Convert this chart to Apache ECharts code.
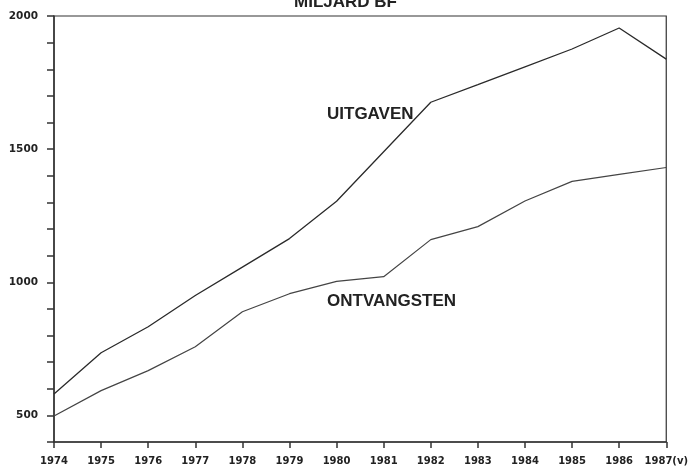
<!DOCTYPE html>
<html>
<head>
    <meta charset="UTF-8">
    <title>Miljard BF</title>
    <script src="https://cdn.jsdelivr.net/npm/echarts@6/dist/echarts.min.js"></script>
    <style>
        body { margin: 0; background: #fff; }
        #main { width: 691px; height: 468px; }
    </style>
</head>
<body>
    <div id="main"></div>
    <script>
        // jaren
        var years = ['1974', '1975', '1976', '1977', '1978', '1979', '1980',
                     '1981', '1982', '1983', '1984', '1985', '1986', '1987(v)'];
        // uitgaven (miljard BF)
        var uitgaven = [580, 735, 833, 950, 1057, 1164, 1304, 1490, 1676, 1742, 1809, 1876, 1955, 1838];
        // ontvangsten (miljard BF)
        var ontvangsten = [498, 593, 668, 758, 889, 957, 1003, 1021, 1160, 1209, 1305, 1379, 1405, 1431];
        // y-as labels
        var yLabels = [500, 1000, 1500, 2000];

        var font = 'Liberation Sans, Arial, sans-serif';
        var tickFont = 'DejaVu Sans, sans-serif';

        var option = {
            backgroundColor: '#ffffff',
            animation: false,
            title: {
                text: 'MILJARD BF',
                left: 'center',
                top: -6,
                padding: 0,
                textStyle: { fontFamily: font, fontSize: 17, fontWeight: 'bold', color: '#222' }
            },
            grid: {
                left: 54, right: 24, top: 16, bottom: 26,
                show: true,
                borderColor: '#333',
                borderWidth: 1.2
            },
            xAxis: {
                type: 'category',
                data: years,
                boundaryGap: false,
                axisLine: { lineStyle: { color: '#333', width: 1.5 } },
                axisTick: { alignWithLabel: true, length: 6, lineStyle: { color: '#333', width: 1.5 } },
                axisLabel: {
                    interval: 0,
                    margin: 14,
                    fontFamily: tickFont, fontSize: 10, fontWeight: 'bold', color: '#222'
                },
                splitLine: { show: false }
            },
            yAxis: {
                type: 'value',
                min: 400,
                max: 2000,
                interval: 100,
                axisLine: { show: true, lineStyle: { color: '#333', width: 1.5 } },
                axisTick: { show: true, length: 7, lineStyle: { color: '#333', width: 1.5 } },
                axisLabel: {
                    margin: 16,
                    fontFamily: tickFont, fontSize: 10.5, fontWeight: 'bold', color: '#222',
                    formatter: function (v) {
                        return yLabels.indexOf(v) >= 0 ? String(v) : '';
                    }
                },
                splitLine: { show: false }
            },
            series: [
                {
                    name: 'UITGAVEN',
                    type: 'line',
                    data: uitgaven,
                    symbol: 'none',
                    lineStyle: { color: '#2a2a2a', width: 1.3 }
                },
                {
                    name: 'ONTVANGSTEN',
                    type: 'line',
                    data: ontvangsten,
                    symbol: 'none',
                    lineStyle: { color: '#444', width: 1.2 }
                }
            ],
            graphic: [
                {
                    type: 'text', left: 327, top: 106,
                    style: { text: 'UITGAVEN', font: 'bold 17px ' + font, fill: '#222' }
                },
                {
                    type: 'text', left: 327, top: 293,
                    style: { text: 'ONTVANGSTEN', font: 'bold 17px ' + font, fill: '#222' }
                }
            ]
        };

        var chart = echarts.init(document.getElementById('main'));
        chart.setOption(option);
    </script>
</body>
</html>
